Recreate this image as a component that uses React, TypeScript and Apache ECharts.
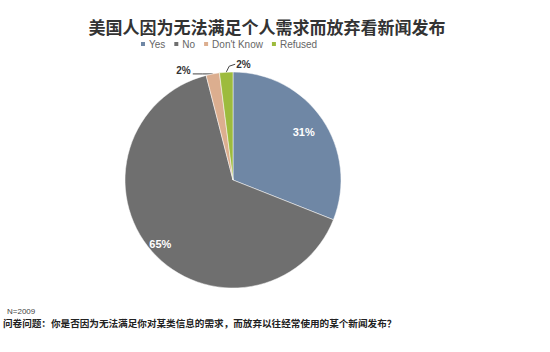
import React, { useEffect, useRef } from "react";
import * as echarts from "echarts";

const categories = ["Yes", "No", "Don't Know", "Refused"];
const values = [31, 65, 2, 2];
const colors = ["#6f87a5", "#6f6f6f", "#dcae8f", "#9dbb3d"];
const titleText = "美国人因为无法满足个人需求而放弃看新闻发布";
const noteN = "N=2009";
const noteQ = "问卷问题：你是否因为无法满足你对某类信息的需求，而放弃以往经常使用的某个新闻发布？";

export default function App() {
  const ref = useRef<HTMLDivElement>(null);
  useEffect(() => {
    if (!ref.current) return;
    const chart = echarts.init(ref.current, null, { renderer: "svg" });
    const cx = 233;
    const cy = 180;
    const data = categories.map((name, i) => {
      const small = values[i] < 5;
      return {
        name,
        value: values[i],
        itemStyle: { color: colors[i] },
        label: small
          ? { position: "outside", color: "#333", fontWeight: "bold", fontSize: 10 }
          : { position: "inside", color: "#fff", fontWeight: "bold", fontSize: 11 },
        labelLine: small
          ? { show: true, length: 0, length2: 14, lineStyle: { color: "#444", width: 1 } }
          : { show: false },
      };
    });
    chart.setOption({
      animation: false,
      backgroundColor: "#ffffff",
      title: {
        text: titleText,
        left: 262,
        textAlign: "center",
        top: 13,
        textStyle: { fontSize: 17, fontWeight: "bold", color: "#333", fontFamily: "Noto Sans CJK SC" },
      },
      legend: {
        data: categories,
        left: 134,
        top: 34,
        itemWidth: 6,
        itemHeight: 6,
        itemGap: 7,
        icon: "rect",
        textStyle: { fontSize: 10, color: "#666", fontFamily: "Arial, Liberation Sans", padding: [0, 0, 0, -2] },
      },
      graphic: [
        { type: "text", left: 7, top: 307, style: { text: noteN, fontSize: 8, fill: "#444", fontFamily: "Liberation Sans" } },
        { type: "text", left: 3, top: 318, style: { text: noteQ, fontSize: 9.6, fill: "#222", fontWeight: "bold", fontFamily: "Noto Sans CJK SC" } },
      ],
      series: [
        {
          type: "pie",
          center: [cx, cy],
          radius: 108,
          startAngle: 90,
          clockwise: true,
          data,
          label: { formatter: "{c}%", fontFamily: "Arial, Liberation Sans" },
          itemStyle: { borderColor: "#ffffff", borderWidth: 0.5 },
          emphasis: { disabled: true },
          labelLayout: (params: any) => {
            const r = params.labelRect;
            if (params.dataIndex === 0 || params.dataIndex === 1) {
              const mx = r.x + r.width / 2;
              const my = r.y + r.height / 2;
              const k = params.dataIndex === 0 ? 1.5 : 1.7;
              return {
                x: cx + (mx - cx) * k,
                y: cy + (my - cy) * k,
                align: "center",
                verticalAlign: "middle",
              };
            }
            const pts = params.labelLinePoints;
            if (!pts) return {};
            const p0 = pts[0];
            if (params.dataIndex === 3) {
              return {
                x: p0[0] + 10,
                y: p0[1] - 8,
                align: "left",
                verticalAlign: "middle",
                labelLinePoints: [p0, [p0[0] + 3, p0[1] - 6], [p0[0] + 9, p0[1] - 8]],
              };
            }
            return {
              x: p0[0] - 22,
              y: p0[1] - 3,
              align: "right",
              verticalAlign: "middle",
              labelLinePoints: [p0, [p0[0] - 10, p0[1]], [p0[0] - 20, p0[1]]],
            };
          },
        },
      ],
    });
    return () => chart.dispose();
  }, []);
  return <div ref={ref} style={{ position: "absolute", left: 0, top: 0, width: 550, height: 352 }} />;
}
